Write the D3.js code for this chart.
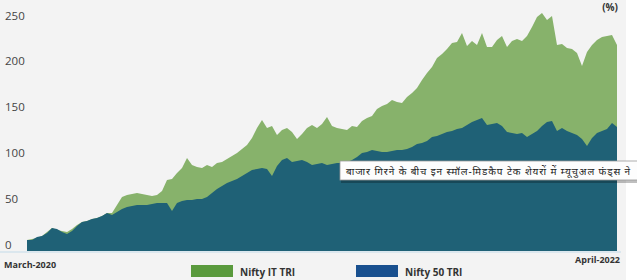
<!DOCTYPE html>
<html>
<head>
<meta charset="utf-8">
<script src="https://cdn.jsdelivr.net/npm/d3@7"></script>
<style>
  html, body { margin: 0; padding: 0; background: #fff; }
  svg { display: block; font-family: "Open Sans", "Noto Sans", sans-serif; }
</style>
</head>
<body>
<svg id="chart" width="637" height="280"></svg>
<script>
/* returns (%) since March-2020, equal steps in time */
var niftyIT = [12.0, 13.1, 14.2, 16.4, 20.7, 25.1, 22.9, 21.8, 20.7, 24.0, 28.4, 31.7, 32.8, 34.9, 36.0, 38.2, 41.5, 41.5,
  50.2, 59.0, 61.1, 62.2, 63.3, 62.2, 61.1, 60.0, 61.1, 65.5, 77.5, 78.6, 85.2, 90.6, 101.5, 93.9, 91.7, 90.6, 93.9, 91.7,
  96.1, 97.2, 100.4, 103.7, 107.0, 111.4, 115.7, 123.4, 134.3, 143.0, 134.3, 136.5, 126.6, 132.1, 134.3, 129.9, 122.3,
  127.7, 134.3, 137.6, 134.3, 138.6, 146.3, 136.5, 134.3, 133.2, 132.1, 136.5, 135.4, 141.9, 145.2, 147.4, 155.0, 158.3,
  160.5, 164.8, 162.7, 161.6, 168.1, 172.5, 177.9, 186.7, 194.3, 200.9, 210.7, 215.1, 220.5, 227.1, 228.2, 238.0, 223.8,
  229.3, 224.9, 238.0, 222.7, 222.7, 230.3, 234.7, 222.7, 229.3, 231.4, 229.3, 234.7, 244.5, 255.5, 259.8, 252.2, 256.5,
  224.9, 226.0, 221.6, 220.5, 216.2, 202.0, 217.2, 224.9, 230.3, 233.6, 234.7, 235.8, 224.9];

var nifty50 = [12.0, 12.0, 15.3, 16.4, 19.7, 25.1, 24.0, 20.7, 18.6, 21.8, 27.3, 31.7, 32.8, 34.9, 36.0, 38.2, 41.5, 39.3,
  42.6, 45.9, 48.0, 49.1, 50.2, 50.2, 50.2, 51.3, 52.4, 52.4, 52.4, 43.7, 52.4, 54.6, 55.7, 55.7, 56.8, 56.8, 59.0, 63.3,
  67.7, 71.0, 74.2, 76.4, 78.6, 81.9, 85.2, 88.4, 89.5, 90.6, 89.5, 81.9, 92.8, 99.3, 101.5, 97.2, 98.3, 99.3, 97.2, 93.9,
  95.0, 96.1, 93.9, 95.0, 96.1, 96.1, 97.2, 99.3, 102.6, 107.0, 108.1, 110.3, 109.2, 108.1, 108.1, 109.2, 110.3, 110.3,
  111.4, 113.5, 116.8, 117.9, 120.1, 124.5, 125.5, 127.7, 129.9, 131.0, 133.2, 134.3, 137.6, 140.8, 143.0, 145.2, 137.6,
  138.6, 139.7, 136.5, 129.9, 128.8, 127.7, 128.8, 124.5, 127.7, 131.0, 136.5, 140.8, 141.9, 131.0, 134.3, 131.0, 128.8,
  126.6, 122.3, 114.6, 123.4, 128.8, 131.0, 133.2, 139.7, 135.4];

var yTicks = [0, 50, 100, 150, 200, 250];
var startLabel = "March-2020", endLabel = "April-2022";
var seriesNames = ["Nifty IT TRI", "Nifty 50 TRI"];
var legendColors = ["#5a9a3d", "#19508f"];
var areaColors = ["#87b26b", "#1f6176"];
var noteText = "बाजार गिरने के बीच इन स्मॉल-मिडकैप टेक शेयरों में म्यूचुअल फंड्स ने";

var svg = d3.select("#chart");

svg.append("rect").attr("width", 626).attr("height", 280).attr("fill", "#f3f3f3");

var x = d3.scaleLinear().domain([0, niftyIT.length - 1]).range([27, 617]);
var y = d3.scaleLinear().domain([0, 250]).range([251, 22]);

var area = d3.area()
    .x(function(d, i) { return x(i); })
    .y0(y(0))
    .y1(function(d) { return y(d); });

// baseline
svg.append("line")
    .attr("x1", 0).attr("x2", 621)
    .attr("y1", y(0) + 1).attr("y2", y(0) + 1)
    .attr("stroke", "#d3e3ec").attr("stroke-width", 1.5);

svg.append("path").datum(niftyIT).attr("d", area).attr("fill", areaColors[0]);
svg.append("path").datum(nifty50).attr("d", area).attr("fill", areaColors[1]);

// y axis labels (sit just above their values)
var yAxis = svg.append("g")
    .attr("transform", "translate(3,0)")
    .call(d3.axisRight(y).tickValues(yTicks).tickSize(0).tickPadding(2));
yAxis.select(".domain").remove();
yAxis.selectAll("text")
    .attr("dy", "-0.25em")
    .attr("fill", "#444")
    .style("font-size", "11.5px")
    .style("font-family", "'Open Sans', sans-serif");

// (%) unit
svg.append("text").attr("x", 618).attr("y", 11).attr("text-anchor", "end")
    .attr("font-weight", "bold").attr("font-size", "10px").attr("fill", "#333").text("(%)");

// date labels
svg.append("text").attr("x", 4).attr("y", 268)
    .attr("font-weight", "bold").attr("font-size", "9px").attr("fill", "#333").text(startLabel);
svg.append("text").attr("x", 620).attr("y", 263).attr("text-anchor", "end")
    .attr("font-weight", "bold").attr("font-size", "9px").attr("fill", "#333").text(endLabel);

// legend
var legendX = [191, 356];
var lg = svg.selectAll("g.leg").data(seriesNames).enter().append("g")
    .attr("class", "leg")
    .attr("transform", function(d, i) { return "translate(" + legendX[i] + ",265)"; });
lg.append("rect").attr("width", 42).attr("height", 12)
    .attr("fill", function(d, i) { return legendColors[i]; });
lg.append("text").attr("x", 49).attr("y", 10.5)
    .attr("font-weight", "bold").attr("font-size", "10px").attr("fill", "#333")
    .text(function(d) { return d; });

// tooltip box over the chart
var tip = svg.append("g").attr("transform", "translate(340,161)");
tip.append("rect").attr("x", 1).attr("y", 2).attr("width", 310).attr("height", 20)
    .attr("fill", "rgba(0,0,0,0.25)");
tip.append("rect").attr("width", 310).attr("height", 19)
    .attr("fill", "#fdfdfd").attr("stroke", "#9a9a9a").attr("stroke-width", 0.8);
tip.append("text").attr("x", 6).attr("y", 13.5)
    .attr("font-size", "10px").attr("fill", "#222")
    .style("letter-spacing", "0.9px")
    .style("font-family", "'Noto Sans', 'DejaVu Sans', sans-serif")
    .text(noteText);
</script>
</body>
</html>
